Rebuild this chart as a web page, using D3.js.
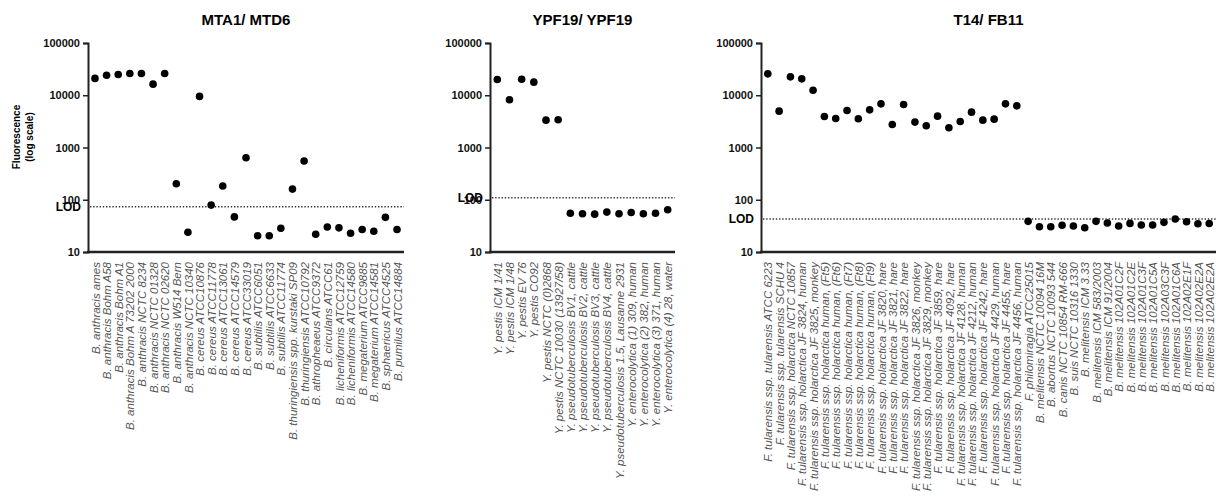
<!DOCTYPE html>
<html>
<head>
<meta charset="utf-8">
<script src="https://cdn.jsdelivr.net/npm/d3@7"></script>
<style>
  html, body { margin: 0; padding: 0; background: #fff; }
  svg { display: block; }
</style>
</head>
<body>
<svg id="chart" width="1216" height="502"></svg>
<script>
// Strain names and fluorescence readings for each assay panel
const bacillusStrains = [
  "B. anthracis ames", "B. anthracis Bohm A58", "B. anthracis Bohm A1",
  "B. anthracis Bohm A 73202 2000", "B. anthracis NCTC 8234", "B. anthracis NCTC 01328",
  "B. anthracis NCTC 02620", "B. anthracis W514 Bern", "B. anthracis NCTC 10340",
  "B. cereus ATCC10876", "B. cereus ATCC11778", "B. cereus ATCC13061",
  "B. cereus ATCC14579", "B. cereus ATCC33019", "B. subtilis ATCC6051",
  "B. subtilis ATCC6633", "B. subtilis ATCC11774", "B. thuringiensis spp. kurstaki SP09",
  "B. thuringiensis ATCC10792", "B. athropheaeus ATCC9372", "B. circulans ATCC61",
  "B. licheniformis ATCC12759", "B. licheniformis ATCC14580", "B. megaterium ATCC9885",
  "B. megaterium ATCC14581", "B. sphaericus ATCC4525", "B. pumilus ATCC14884"
];
const bacillusValues = [
  21000, 24200, 25000, 26000, 26000, 16300, 26000, 202, 23.8,
  9500, 79, 183, 47, 635, 20.5, 20.5, 28.4, 160,
  550, 21.8, 30, 29, 22.8, 27, 24.9, 46, 27
];
const bacillusLOD = 73.5;

const yersiniaStrains = [
  "Y. pestis ICM 1/41", "Y. pestis ICM 1/48", "Y. pestis EV 76", "Y. pestis CO92",
  "Y. pestis NCTC (0)2868", "Y. pestis NCTC 10030 (13927/58)",
  "Y. pseudotuberculosis BV1, cattle", "Y. pseudotuberculosis BV2, cattle",
  "Y. pseudotuberculosis BV3, cattle", "Y. pseudotuberculosis BV4, cattle",
  "Y. pseudotuberculosis 1.5, Lausanne 2931",
  "Y. enterocolytica (1) 309, human", "Y. enterocolytica (2) 382, human",
  "Y. enterocolytica (3) 371, human", "Y. enterocolytica (4) 28, water"
];
const yersiniaValues = [
  20000, 8200, 20300, 17800, 3340, 3400,
  55, 54, 53, 58, 54, 57, 54, 55, 64.5
];
const yersiniaLOD = 109;

const francisellaStrains = [
  "F. tularensis ssp. tularensis ATCC 6223", "F. tularensis ssp. tularensis SCHU 4",
  "F. tularensis ssp. holarctica NCTC 10857", "F. tularensis ssp. holarctica JF 3824, human",
  "F. tularensis ssp. holarctica JF 3825, monkey", "F. tularensis ssp. holarctica human, (Ft5)",
  "F. tularensis ssp. holarctica human, (Ft6)", "F. tularensis ssp. holarctica human, (Ft7)",
  "F. tularensis ssp. holarctica human, (Ft8)", "F. tularensis ssp. holarctica human, (Ft9)",
  "F. tularensis ssp. holarctica JF 3820, hare", "F. tularensis ssp. holarctica JF 3821, hare",
  "F. tularensis ssp. holarctica JF 3822, hare", "F. tularensis ssp. holarctica JF 3826, monkey",
  "F. tularensis ssp. holarctica JF 3829, monkey", "F. tularensis ssp. holarctica JF 3859, hare",
  "F. tularensis ssp. holarctica JF 4092, hare", "F. tularensis ssp. holarctica JF 4128, human",
  "F. tularensis ssp. holarctica JF 4212, human", "F. tularensis ssp. holarctica JF 4242, hare",
  "F. tularensis ssp. holarctica JF 4429, human", "F. tularensis ssp. holarctica JF 4455, hare",
  "F. tularensis ssp. holarctica JF 4456, human", "F. philomiragia ATCC25015",
  "B. melitensis NCTC 10094 16M", "B. abortus NCTC 10093 544",
  "B. canis NCTC 10854 RM-666", "B. suis NCTC 10316 1330",
  "B. melitensis ICM 3.33", "B. melitensis ICM 583/2003", "B. melitensis ICM 91/2004",
  "B. melitensis 102A01C2F", "B. melitensis 102A01C2E", "B. melitensis 102A01C3F",
  "B. melitensis 102A01C5A", "B. melitensis 102A03C3F", "B. melitensis 102A01C6A",
  "B. melitensis 102A02E1F", "B. melitensis 102A02E2A", "B. melitensis 102A02E2A "
];
const francisellaValues = [
  25700, 4960, 22500, 20600, 12500, 3930, 3600, 5120, 3540, 5260,
  6850, 2760, 6650, 3060, 2600, 3980, 2380, 3150, 4750, 3340,
  3490, 6850, 6270, 38.6, 30.5, 30.5, 32.4, 31.4, 29.2, 38.6,
  35.8, 31.4, 35.3, 32.8, 32.8, 36.9, 42.7, 38, 34.8, 35
];
const francisellaLOD = 42.7;

const yTickValues = [10, 100, 1000, 10000, 100000];

// Panel layout
const panels = [
  { title: "MTA1/ MTD6",   strains: bacillusStrains,    values: bacillusValues,    lod: bacillusLOD,    x0: 88,  x1: 404, yTitle: true },
  { title: "YPF19/ YPF19", strains: yersiniaStrains,    values: yersiniaValues,    lod: yersiniaLOD,    x0: 490, x1: 675, yTitle: false },
  { title: "T14/ FB11",    strains: francisellaStrains, values: francisellaValues, lod: francisellaLOD, x0: 761, x1: 1216, yTitle: false }
];

const svg = d3.select("#chart");
const yTop = 43, yBottom = 252;
const FONT = "Arial, 'Liberation Sans', Helvetica, sans-serif";

const y = d3.scaleLog().domain([10, 100000]).range([yBottom, yTop]);

panels.forEach(p => {
  const g = svg.append("g");
  const x = d3.scalePoint().domain(p.strains).range([p.x0, p.x1]).padding(0.6);

  // title
  g.append("text")
    .attr("x", (p.x0 + p.x1) / 2).attr("y", 25)
    .attr("text-anchor", "middle")
    .attr("font-family", FONT).attr("font-weight", "bold").attr("font-size", 15)
    .text(p.title);

  // y axis
  const yAxis = d3.axisLeft(y).tickValues(yTickValues).tickFormat(d3.format("d")).tickSize(5).tickPadding(3);
  const ya = g.append("g").attr("transform", `translate(${p.x0},0)`).call(yAxis);
  ya.select(".domain").attr("stroke", "#222").attr("stroke-width", 2);
  ya.selectAll(".tick line").attr("stroke", "#222").attr("stroke-width", 1.5);
  ya.selectAll(".tick text").attr("font-family", FONT).attr("font-weight", "bold")
    .attr("font-size", 11).attr("fill", "#111");

  // x axis with rotated strain labels
  const xAxis = d3.axisBottom(x).tickSize(0).tickPadding(0);
  const xa = g.append("g").attr("transform", `translate(0,${yBottom})`).call(xAxis);
  xa.select(".domain").attr("d", `M${p.x0 - 1},0H${p.x1}`).attr("stroke", "#222").attr("stroke-width", 2.5);
  xa.selectAll(".tick text")
    .attr("font-family", FONT).attr("font-style", "italic").attr("font-size", 11.5)
    .attr("fill", "#555")
    .attr("text-anchor", "end")
    .attr("transform", "translate(0,10) rotate(-90)")
    .attr("x", 0).attr("y", 0).attr("dy", "0.36em")
    .text(d => d.trim());

  // limit of detection
  g.append("line")
    .attr("x1", p.x0 + 2).attr("x2", p.x1)
    .attr("y1", y(p.lod)).attr("y2", y(p.lod))
    .attr("stroke", "#333").attr("stroke-width", 1.4).attr("stroke-dasharray", "1.4,1.8");
  g.append("text")
    .attr("x", p.x0 - 7).attr("y", y(p.lod)).attr("dy", "0.36em")
    .attr("text-anchor", "end")
    .attr("font-family", FONT).attr("font-weight", "bold").attr("font-size", 12)
    .text("LOD");

  // points
  g.selectAll("circle.pt").data(p.values).enter().append("circle")
    .attr("class", "pt")
    .attr("cx", (d, i) => x(p.strains[i]))
    .attr("cy", d => y(d))
    .attr("r", 3.8)
    .attr("fill", "#000");

  if (p.yTitle) {
    const cy = 137;
    g.append("text")
      .attr("transform", `translate(20,${cy}) rotate(-90)`)
      .attr("text-anchor", "middle")
      .attr("font-family", FONT).attr("font-weight", "bold").attr("font-size", 10)
      .text("Fluorescence");
    g.append("text")
      .attr("transform", `translate(33,${cy}) rotate(-90)`)
      .attr("text-anchor", "middle")
      .attr("font-family", FONT).attr("font-weight", "bold").attr("font-size", 10)
      .text("(log scale)");
  }
});
</script>
</body>
</html>
